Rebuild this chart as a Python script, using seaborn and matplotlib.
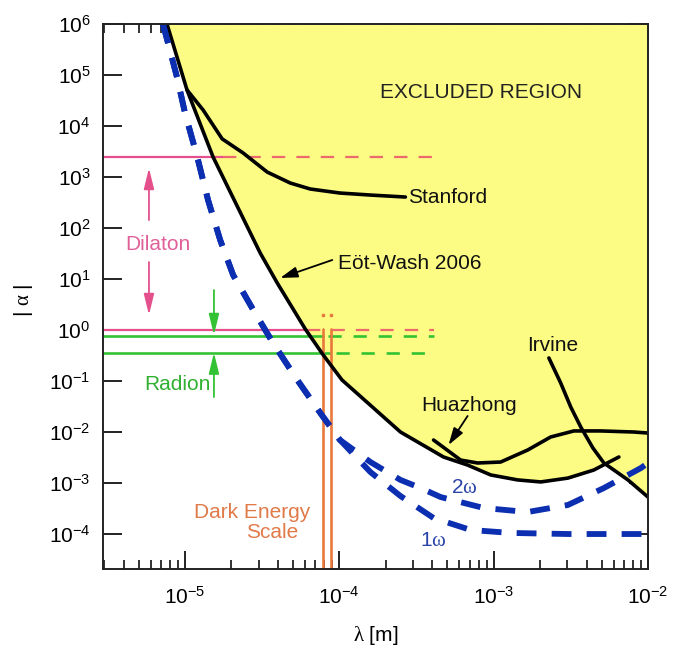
import matplotlib

matplotlib.use("Agg")
import matplotlib.pyplot as plt
import numpy as np
import pandas as pd
import seaborn as sns
from matplotlib.ticker import LogLocator, NullFormatter, NullLocator

# Eöt-Wash 2006 limit (lambda in m, |alpha|)
ew_lam = [7.64e-6, 1.03e-5, 1.52e-5, 3.07e-5, 3.96e-5, 6.01e-5, 7.87e-5, 1.04e-4,
          2.49e-4, 4.73e-4, 6.78e-4, 9.57e-4, 1.43e-3, 2.02e-3, 3.03e-3, 4.46e-3, 6.48e-3]
ew_alpha = [1e6, 5.1e4, 2.47e3, 32.4, 8.35, 1.05, 0.323, 0.105,
            0.0100, 3.24e-3, 2.25e-3, 1.44e-3, 1.15e-3, 1.05e-3, 1.25e-3, 1.80e-3, 3.24e-3]

# Stanford
st_lam = [1.03e-5, 1.31e-5, 1.74e-5, 2.38e-5, 3.41e-5, 4.81e-5, 6.48e-5, 1.01e-4, 1.59e-4, 2.68e-4]
st_alpha = [5.1e4, 2.06e4, 5.6e3, 2.96e3, 1.25e3, 762, 582, 485, 443, 405]

# Irvine
irv_lam = [2.28e-3, 2.72e-3, 3.16e-3, 3.67e-3, 4.40e-3, 5.18e-3, 7.42e-3, 1.0e-2]
irv_alpha = [0.283, 0.0914, 0.0309, 0.0125, 4.85e-3, 2.47e-3, 1.15e-3, 5.31e-4]

# Huazhong
hz_lam = [4.08e-4, 6.11e-4, 7.87e-4, 1.11e-3, 1.66e-3, 2.34e-3, 3.31e-3, 4.95e-3, 8.11e-3, 1.0e-2]
hz_alpha = [6.97e-3, 2.82e-3, 2.47e-3, 2.58e-3, 4.43e-3, 7.98e-3, 1.05e-2, 1.05e-2, 1.0e-2, 9.55e-3]

# projected sensitivities (shared steep part, then 2w / 1w branches)
proj_lam = [7.2e-6, 8.87e-6, 1.0e-5, 1.2e-5, 1.41e-5, 1.69e-5, 2.05e-5, 2.77e-5,
            3.72e-5, 5.34e-5, 7.53e-5, 1.01e-4]
proj_alpha = [1e6, 9.1e4, 1.8e4, 2.47e3, 354, 58.2, 12.0, 2.47, 0.556, 0.105, 0.0236, 6.97e-3]
w2_lam = [1.59e-4, 2.49e-4, 3.36e-4, 4.53e-4, 8.61e-4, 1.66e-3, 3.03e-3, 5.18e-3, 9.01e-3, 1.0e-2]
w2_alpha = [2.58e-3, 1.15e-3, 7.98e-4, 5.31e-4, 3.24e-4, 2.70e-4, 3.71e-4, 7.98e-4, 1.97e-3, 2.47e-3]
w1_lam = [1.59e-4, 2.49e-4, 4.08e-4, 7.10e-4, 1.29e-3, 3.03e-3, 1.0e-2]
w1_alpha = [1.64e-3, 5.56e-4, 2.06e-4, 1.20e-4, 1.05e-4, 1.0e-4, 1.0e-4]

# theory levels
dilaton_levels = [2.5e3, 1.0]
radion_levels = [0.76, 0.355]
dark_energy_lam = [7.87e-5, 8.87e-5]

XMIN, XMAX = 2.94e-6, 1e-2
YMIN, YMAX = 2.06e-5, 1e6

PINK = "#e4508c"
SALMON = "#ec6a6e"
GREEN = "#33c233"
ORANGE = "#e8783c"
BLUE = "#0c2eb0"
YELLOW = "#fcfc84"

sns.set_theme(style="ticks")
plt.rcParams["font.family"] = ["Liberation Sans", "DejaVu Sans"]
plt.rcParams["mathtext.fontset"] = "custom"
plt.rcParams["mathtext.rm"] = "Liberation Serif"
plt.rcParams["mathtext.it"] = "Liberation Serif:italic"
plt.rcParams["axes.unicode_minus"] = False
plt.rcParams["text.color"] = "black"
plt.rcParams["xtick.labelcolor"] = "black"
plt.rcParams["ytick.labelcolor"] = "black"
plt.rcParams["axes.labelcolor"] = "black"

fig = plt.figure(figsize=(6.73, 6.56), dpi=100)
ax = fig.add_axes([0.153, 0.1326, 0.8098, 0.8308])
ax.set_xscale("log")
ax.set_yscale("log")
ax.set_xlim(XMIN, XMAX)
ax.set_ylim(YMIN, YMAX)
ax.set_facecolor("white")


def loginterp(xg, xs, ys):
    out = np.interp(np.log10(xg), np.log10(xs), np.log10(ys), left=np.inf, right=np.inf)
    return 10 ** out


# excluded region: above the lowest experimental limit
grid = np.logspace(np.log10(ew_lam[0]), np.log10(XMAX), 800)
env = np.minimum(loginterp(grid, ew_lam, ew_alpha), loginterp(grid, irv_lam, irv_alpha))
ax.fill_between(grid, env, YMAX, color=YELLOW, lw=0, zorder=1)

# dilaton / radion levels
ew_cross = [1.77e-5, 6.19e-5]
for lvl, xc in zip(dilaton_levels, ew_cross):
    ax.plot([XMIN, xc], [lvl, lvl], color=PINK, lw=1.6, zorder=2)
    ax.plot([xc, 4.08e-4], [lvl, lvl], color=SALMON, lw=1.6, dashes=(6, 5), zorder=2)
rad_cross = [7.87e-5, 8.75e-5]
for lvl, xc in zip(radion_levels, rad_cross):
    ax.plot([XMIN, xc], [lvl, lvl], color=GREEN, lw=1.9, zorder=2)
    ax.plot([xc * 1.08, 4.08e-4], [lvl, lvl], color=GREEN, lw=1.9, dashes=(5, 4.5), zorder=2)

# dark energy scale
for xl in dark_energy_lam:
    ax.plot([xl, xl], [YMIN, 1.05], color=ORANGE, lw=1.9, zorder=2)
ax.plot(dark_energy_lam, [1.95, 1.95], ls="none", marker="s", ms=1.6, color=ORANGE, zorder=2)

# experimental limits
for lam, alp in [(ew_lam, ew_alpha), (st_lam, st_alpha), (irv_lam, irv_alpha), (hz_lam, hz_alpha)]:
    df = pd.DataFrame({"lam": lam, "alpha": alp})
    sns.lineplot(data=df, x="lam", y="alpha", ax=ax, color="black", linewidth=2.6,
                 estimator=None, sort=False, zorder=4)

# projected sensitivities
for lam, alp in [(w2_lam, w2_alpha), (w1_lam, w1_alpha)]:
    ax.plot(proj_lam + lam, proj_alpha + alp, color=BLUE, lw=4.2,
            dashes=(3.4, 2.6), solid_capstyle="butt", zorder=5)

ax.set_xlim(XMIN, XMAX)
ax.set_ylim(YMIN, YMAX)

# arrows
head = "-|>,head_length=0.9,head_width=0.22"
for tip, tail in [(1.5e3, 143), (1.97, 21.5)]:
    ax.annotate("", xy=(5.84e-6, tip), xytext=(5.84e-6, tail),
                arrowprops=dict(arrowstyle=head, color=PINK, lw=1.3, mutation_scale=14,
                                shrinkA=0, shrinkB=0), zorder=6)
for tip, tail in [(0.8, 6.08), (0.36, 0.0485)]:
    ax.annotate("", xy=(1.54e-5, tip), xytext=(1.54e-5, tail),
                arrowprops=dict(arrowstyle=head, color=GREEN, lw=1.3, mutation_scale=14,
                                shrinkA=0, shrinkB=0), zorder=6)
blk_head = "-|>,head_length=0.8,head_width=0.25"
ax.annotate("", xy=(4.14e-5, 10.5), xytext=(9.0e-5, 23.6),
            arrowprops=dict(arrowstyle=blk_head, color="black", lw=1.3, mutation_scale=13,
                            shrinkA=0, shrinkB=0), zorder=6)
ax.annotate("", xy=(5.1e-4, 5.56e-3), xytext=(6.78e-4, 0.0206),
            arrowprops=dict(arrowstyle=blk_head, color="black", lw=1.3, mutation_scale=13,
                            shrinkA=0, shrinkB=0), zorder=6)

# labels
fs = 15
ax.text(8.24e-4, 4.44e4, "EXCLUDED REGION", fontsize=fs, ha="center", va="center", color="#222222")
ax.text(2.77e-4, 405, "Stanford", fontsize=fs, ha="left", va="center", color="#111111")
ax.text(9.86e-5, 20.6, "Eöt-Wash 2006", fontsize=fs, ha="left", va="center", color="#111111")
ax.text(6.88e-4, 0.0338, "Huazhong", fontsize=fs, ha="center", va="center", color="#111111")
ax.text(2.42e-3, 0.508, "Irvine", fontsize=fs, ha="center", va="center", color="#111111")
ax.text(6.68e-6, 48.5, "Dilaton", fontsize=fs, ha="center", va="center", color="#e0609a")
ax.text(8.87e-6, 0.0836, "Radion", fontsize=fs, ha="center", va="center", color="#30b030")
ax.text(6.48e-5, 2.7e-4, "Dark Energy", fontsize=fs, ha="right", va="center", color="#e07a48")
ax.text(3.67e-5, 1.05e-4, "Scale", fontsize=fs, ha="center", va="center", color="#e07a48")
ax.text(6.49e-4, 8.35e-4, r"2$\mathrm{\omega}$", fontsize=fs, ha="center", va="center", color="#2a44a8")
ax.text(4.08e-4, 7.62e-5, r"1$\mathrm{\omega}$", fontsize=fs, ha="center", va="center", color="#2a44a8")

# axes styling
ax.yaxis.set_major_locator(LogLocator(base=10, numticks=20))
ax.yaxis.set_minor_locator(NullLocator())
ax.xaxis.set_major_locator(LogLocator(base=10, numticks=20))
ax.xaxis.set_minor_locator(LogLocator(base=10, subs=np.arange(2, 10), numticks=20))
ax.xaxis.set_minor_formatter(NullFormatter())
ax.tick_params(which="both", direction="in", top=True, right=True, color="#111111")
ax.tick_params(axis="x", which="major", length=13, width=1.3, labelsize=fs, pad=12)
ax.tick_params(axis="x", which="minor", length=6.5, width=1.2)
ax.tick_params(axis="y", which="major", length=14, width=1.3, labelsize=fs, pad=9)
for sp in ax.spines.values():
    sp.set_linewidth(1.4)
    sp.set_color("#222222")
    sp.set_zorder(7)

ax.set_xlabel(r"$\mathrm{\lambda}$ [m]", fontsize=fs)
ax.set_ylabel(r"| $\mathrm{\alpha}$ |", fontsize=fs)
ax.xaxis.set_label_coords(0.5, -0.1)
ax.yaxis.set_label_coords(-0.125, 0.494)

fig.savefig("out.png", dpi=100, facecolor="white")
